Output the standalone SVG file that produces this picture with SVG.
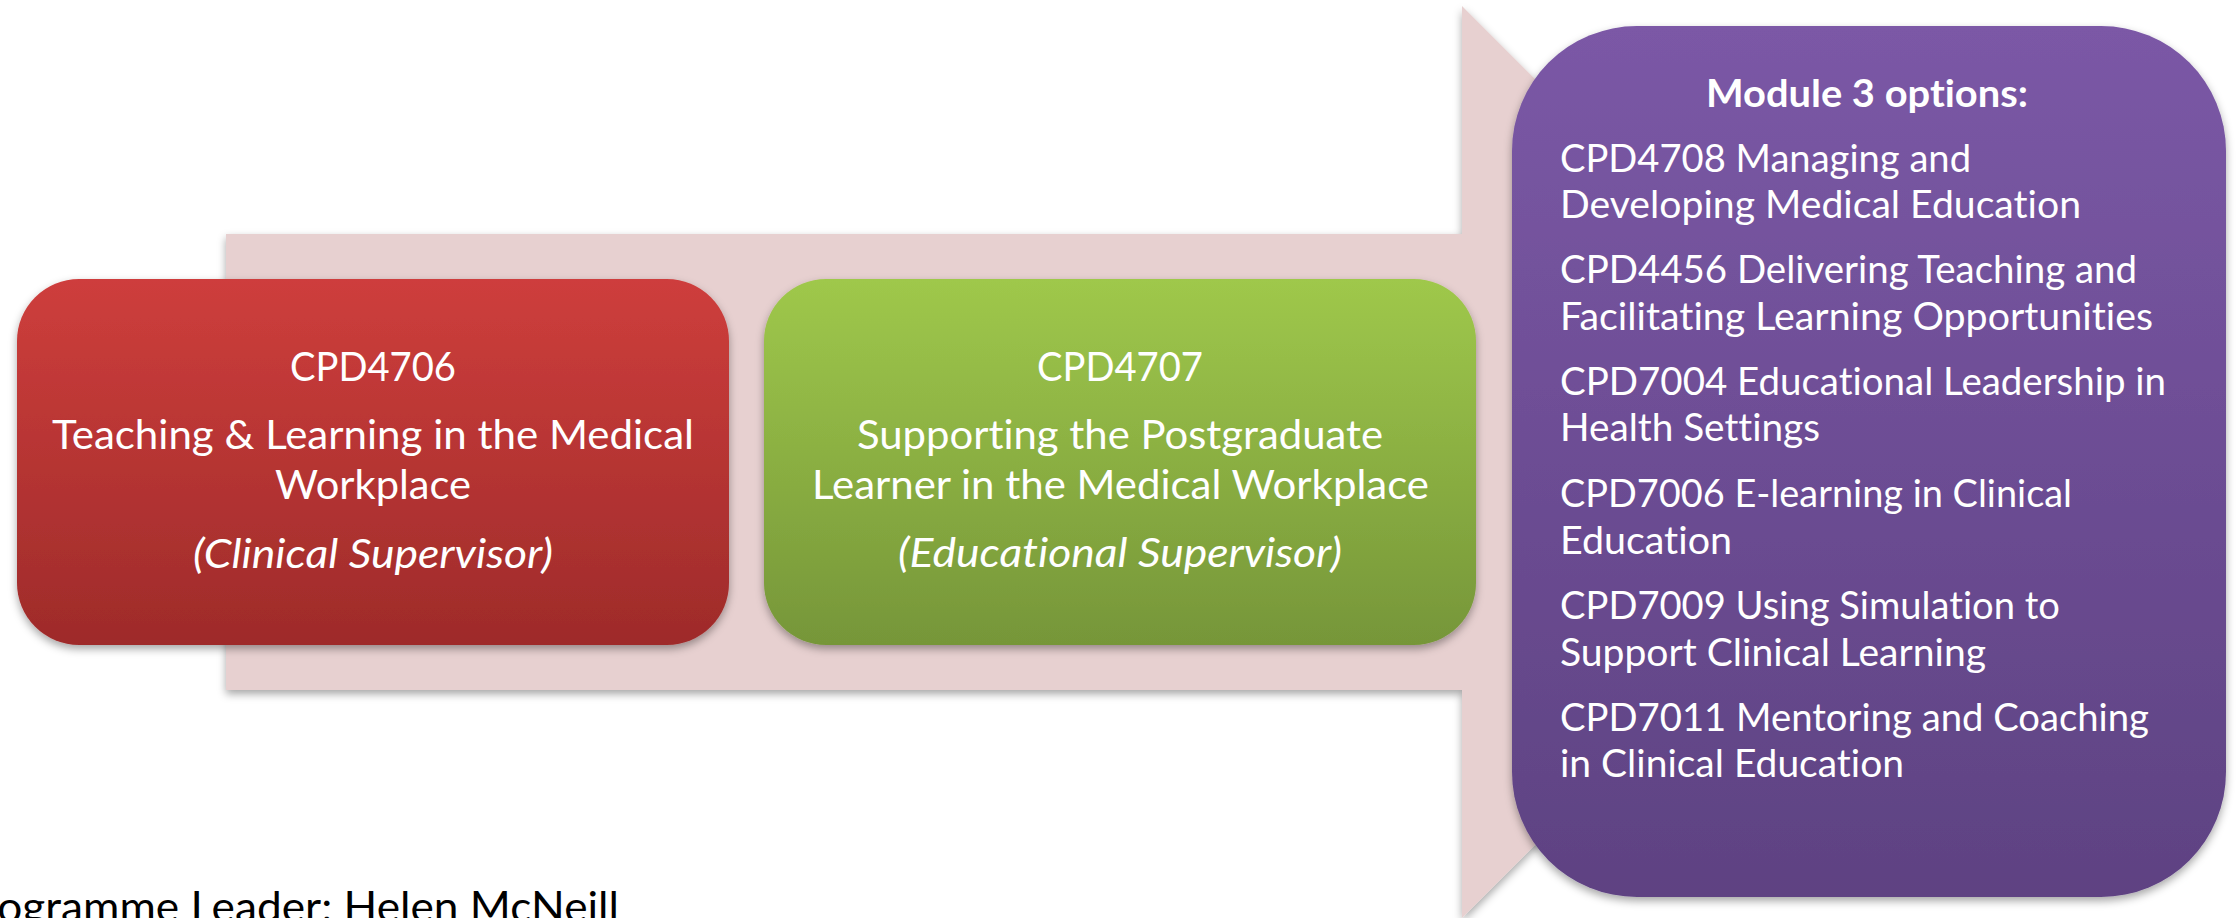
<svg xmlns="http://www.w3.org/2000/svg" width="2236" height="918" viewBox="0 0 2236 918">
  <defs>
    <linearGradient id="gRed" x1="0" y1="0" x2="0" y2="1">
      <stop offset="0" stop-color="#CE3E3C"/>
      <stop offset="1" stop-color="#9E2B2A"/>
    </linearGradient>
    <linearGradient id="gGreen" x1="0" y1="0" x2="0" y2="1">
      <stop offset="0" stop-color="#9FC84B"/>
      <stop offset="1" stop-color="#769639"/>
    </linearGradient>
    <linearGradient id="gPurple" x1="0" y1="0" x2="0" y2="1">
      <stop offset="0" stop-color="#7B58A6"/>
      <stop offset="1" stop-color="#5E4282"/>
    </linearGradient>
    <filter id="shadow" x="-10%" y="-10%" width="120%" height="125%">
      <feDropShadow dx="0" dy="4" stdDeviation="4" flood-color="#000" flood-opacity="0.35"/>
    </filter>
  </defs>
  <style>
    text { font-variant-ligatures: none; font-feature-settings: "liga" 0, "clig" 0; }
    .t { font-family: Lato, "Liberation Sans", sans-serif; fill: #FFFFFF; }
    .box { font-size: 40px; }
    .opt { font-size: 38.5px; }
    .it { font-style: italic; }
    .b { font-weight: bold; }
    .footer { font-family: Lato, "Liberation Sans", sans-serif; font-size: 42px; fill: #000000; }
  </style>
  <rect x="0" y="0" width="2236" height="918" fill="#FFFFFF"/>

  <g id="connectors">
    <polygon points="226,234 1462,234 1462,6 1918,462 1462,918 1462,690 226,690" fill="#E7D0D0" filter="url(#shadow)"/>
  </g>

  <g id="node-cpd4706">
    <rect x="17" y="279" width="712" height="366" rx="62" ry="62" fill="url(#gRed)" filter="url(#shadow)"/>
    <text class="t box" x="290" y="381" textLength="166" lengthAdjust="spacingAndGlyphs">CPD4706</text>
    <text class="t box" x="52" y="449" textLength="642" lengthAdjust="spacingAndGlyphs">Teaching &amp; Learning in the Medical</text>
    <text class="t box" x="275" y="499" textLength="196" lengthAdjust="spacingAndGlyphs">Workplace</text>
    <text class="t box it" x="193" y="568" textLength="360" lengthAdjust="spacingAndGlyphs">(Clinical Supervisor)</text>
  </g>

  <g id="node-cpd4707">
    <rect x="764" y="279" width="712" height="366" rx="62" ry="62" fill="url(#gGreen)" filter="url(#shadow)"/>
    <text class="t box" x="1037" y="381" textLength="166" lengthAdjust="spacingAndGlyphs">CPD4707</text>
    <text class="t box" x="857" y="449" textLength="526" lengthAdjust="spacingAndGlyphs">Supporting the Postgraduate</text>
    <text class="t box" x="812" y="499" textLength="617" lengthAdjust="spacingAndGlyphs">Learner in the Medical Workplace</text>
    <text class="t box it" x="898" y="567" textLength="444" lengthAdjust="spacingAndGlyphs">(Educational Supervisor)</text>
  </g>

  <g id="node-module3">
    <rect x="1512" y="26" width="714" height="871" rx="125" ry="125" fill="url(#gPurple)" filter="url(#shadow)"/>
    <text class="t opt b" x="1706" y="107" textLength="322" lengthAdjust="spacingAndGlyphs">Module 3 options:</text>
    <text class="t opt" x="1560" y="172" textLength="411" lengthAdjust="spacingAndGlyphs">CPD4708 Managing and</text>
    <text class="t opt" x="1560" y="218" textLength="521" lengthAdjust="spacingAndGlyphs">Developing Medical Education</text>
    <text class="t opt" x="1560" y="283" textLength="577" lengthAdjust="spacingAndGlyphs">CPD4456 Delivering Teaching and</text>
    <text class="t opt" x="1560" y="330" textLength="593" lengthAdjust="spacingAndGlyphs">Facilitating Learning Opportunities</text>
    <text class="t opt" x="1560" y="395" textLength="606" lengthAdjust="spacingAndGlyphs">CPD7004 Educational Leadership in</text>
    <text class="t opt" x="1560" y="441" textLength="260" lengthAdjust="spacingAndGlyphs">Health Settings</text>
    <text class="t opt" x="1560" y="507" textLength="512" lengthAdjust="spacingAndGlyphs">CPD7006 E-learning in Clinical</text>
    <text class="t opt" x="1560" y="554" textLength="172" lengthAdjust="spacingAndGlyphs">Education</text>
    <text class="t opt" x="1560" y="619" textLength="500" lengthAdjust="spacingAndGlyphs">CPD7009 Using Simulation to</text>
    <text class="t opt" x="1560" y="666" textLength="426" lengthAdjust="spacingAndGlyphs">Support Clinical Learning</text>
    <text class="t opt" x="1560" y="731" textLength="589" lengthAdjust="spacingAndGlyphs">CPD7011 Mentoring and Coaching</text>
    <text class="t opt" x="1560" y="777" textLength="344" lengthAdjust="spacingAndGlyphs">in Clinical Education</text>
  </g>

  <g id="footer">
    <text class="footer" x="-44" y="922" textLength="663" lengthAdjust="spacingAndGlyphs">Programme Leader: Helen McNeill</text>
  </g>
</svg>
